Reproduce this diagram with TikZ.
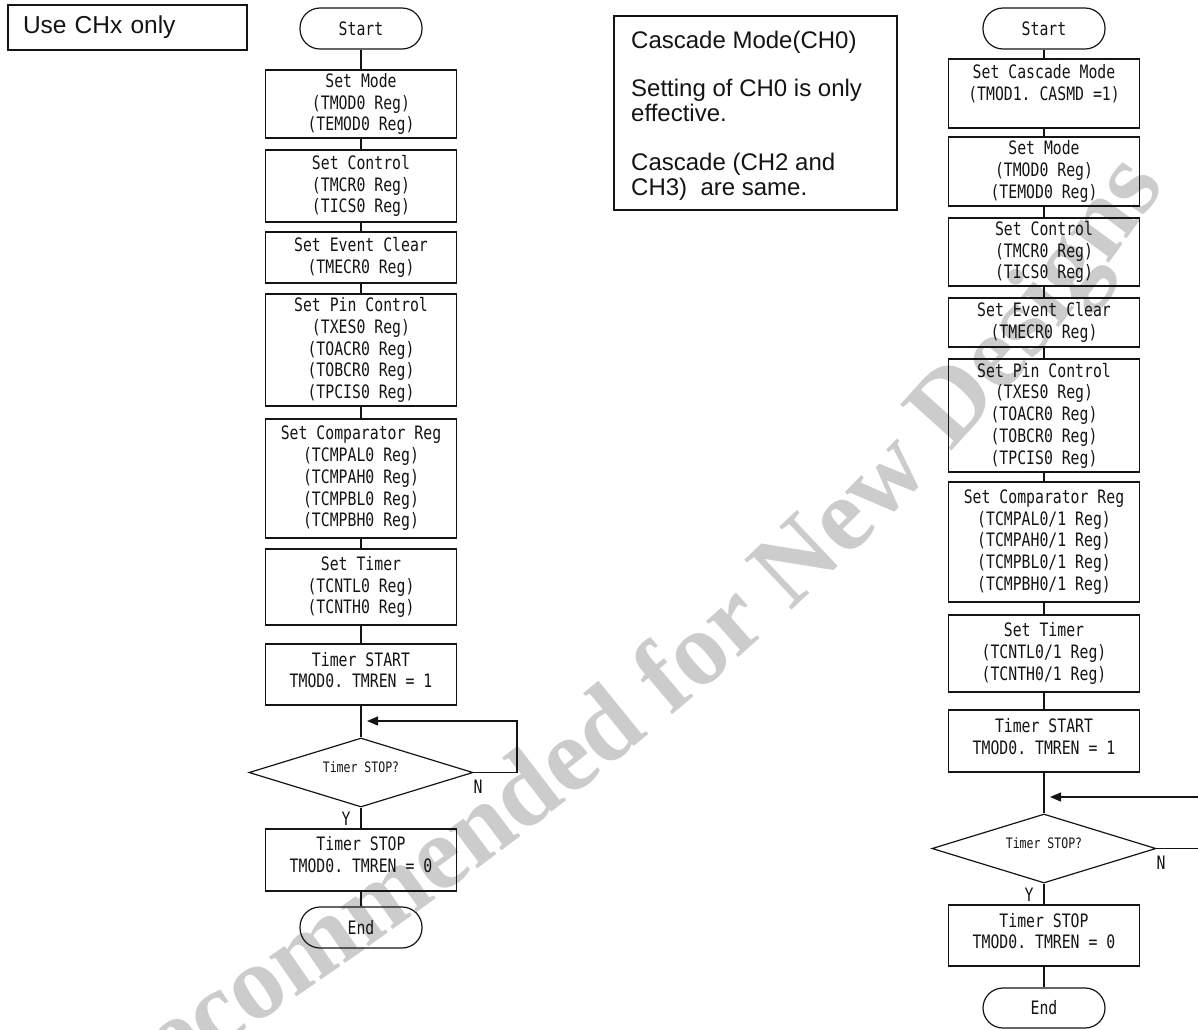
\documentclass[tikz,border=0pt]{standalone}
\usepackage{fontspec}
\usetikzlibrary{shapes.geometric,arrows.meta,decorations.text}
\newfontfamily\gothic[FakeStretch=0.8]{DejaVu Sans Mono}
\newfontfamily\arialf{Liberation Sans}
\newfontfamily\wmserif{Liberation Serif}
\definecolor{wmgray}{RGB}{204,204,204}
\definecolor{ink}{RGB}{20,20,20}
\frenchspacing
\begin{document}
\begin{tikzpicture}[x=1pt,y=-1pt,
  proc/.style={draw=ink, line width=1.2pt, minimum width=191pt, inner sep=0pt, align=center, font=\gothic\fontsize{18.5}{21.7}\selectfont, text=ink},
  term/.style={proc, rounded corners=20pt, minimum width=122pt, minimum height=41pt},
  decide/.style={draw=ink, line width=1.2pt, diamond, shape aspect=3.25, minimum width=224pt, minimum height=69pt, inner sep=0pt, font=\gothic\fontsize{14.4}{16}\selectfont, text=ink},
  conn/.style={draw=ink, line width=1.2pt},
  arr/.style={conn, -{Triangle[length=11pt,width=9pt]}},
  yn/.style={font=\gothic\fontsize{18.5}{21.7}\selectfont, text=ink, inner sep=0pt},
  notetxt/.style={font=\arialf\fontsize{24}{28}\selectfont, text=ink, inner sep=0pt, anchor=base west},
  down/.style={execute at begin node={\rule{0pt}{#1}}},
  up/.style={execute at end node={\rule[-#1]{0pt}{0pt}}},
]
\useasboundingbox (0,0) rectangle (1198,1029);
% watermark
\begin{scope}
\clip (0,0) rectangle (1198,1029);
\path[decorate, decoration={text along path, text align=right,
  text={|\wmserif\bfseries\fontsize{105}{105}\selectfont\color{wmgray}|Not Recommended for New Designs}}]
  (-120,1260) .. controls (400,950) and (870,618) .. (1165,185);
\end{scope}

% left note
\node[draw=ink, line width=1.2pt, minimum width=239pt, minimum height=45pt, inner xsep=15pt, inner ysep=0pt,
  text width=209pt, align=left, font=\arialf\fontsize{24.5}{28}\selectfont, text=ink] (use) at (127.5,27.5) {Use CHx only};

% left flowchart
\node[term] (L0) at (361,28.5) {Start};
\node[proc, minimum height=68pt, down=22pt] (L1) at (361,104) {Set Mode\\(TMOD0 Reg)\\(TEMOD0 Reg)};
\node[proc, minimum height=72pt, down=21pt] (L2) at (361,186) {Set Control\\(TMCR0 Reg)\\(TICS0 Reg)};
\node[proc, minimum height=51pt] (L3) at (361,257.5) {Set Event Clear\\(TMECR0 Reg)};
\node[proc, minimum height=112pt, down=22pt] (L4) at (361,350) {Set Pin Control\\(TXES0 Reg)\\(TOACR0 Reg)\\(TOBCR0 Reg)\\(TPCIS0 Reg)};
\node[proc, minimum height=119pt] (L5) at (361,478.5) {Set Comparator Reg\\(TCMPAL0 Reg)\\(TCMPAH0 Reg)\\(TCMPBL0 Reg)\\(TCMPBH0 Reg)};
\node[proc, minimum height=76pt, down=18pt] (L6) at (361,587) {Set Timer\\(TCNTL0 Reg)\\(TCNTH0 Reg)};
\node[proc, minimum height=61pt, up=9pt] (L7) at (361,674.5) {Timer START\\TMOD0. TMREN = 1};
\node[decide] (L8) at (361,772.5) {\smash{Timer STOP?}};
\node[proc, minimum height=62pt, up=11pt] (L9) at (361,860) {Timer STOP\\TMOD0. TMREN = 0};
\node[term] (L10) at (361,927.5) {End};
\node[yn] (LN) at (478,787) {N};
\node[yn] (LY) at (346,819) {Y};
\coordinate (Lturn) at (517,721);
\coordinate (Lin) at (367,721);

\foreach \a/\b in {L0/L1,L1/L2,L2/L3,L3/L4,L4/L5,L5/L6,L6/L7,L7/L8,L8/L9,L9/L10}
  \draw[conn] (\a.south) -- (\b.north);
\draw[arr] (L8.east) -| (Lturn) -- (Lin);

% note box
\node[draw=ink, line width=1.2pt, minimum width=283pt, minimum height=194pt, inner sep=0pt] (note) at (755.5,113) {};
\node[notetxt] (n1) at (631,48) {Cascade Mode(CH0)};
\node[notetxt] (n2) at (631,96) {Setting of CH0 is only};
\node[notetxt] (n3) at (631,121) {effective.};
\node[notetxt] (n4) at (631,170) {Cascade (CH2 and};
\node[notetxt] (n5) at (631,195) {CH3)\ \ are same.};

% right flowchart
\node[term] (R0) at (1044,28.5) {Start};
\node[proc, minimum height=69pt, down=21pt] (R1) at (1044,93.5) {Set Cascade Mode\\(TMOD1. CASMD =1)\\~};
\node[proc, minimum height=69pt, down=21pt] (R2) at (1044,171.5) {Set Mode\\(TMOD0 Reg)\\(TEMOD0 Reg)};
\node[proc, minimum height=68pt, down=21pt] (R3) at (1044,252) {Set Control\\(TMCR0 Reg)\\(TICS0 Reg)};
\node[proc, minimum height=49pt] (R4) at (1044,322.5) {Set Event Clear\\(TMECR0 Reg)};
\node[proc, minimum height=113pt, down=22pt] (R5) at (1044,415.5) {Set Pin Control\\(TXES0 Reg)\\(TOACR0 Reg)\\(TOBCR0 Reg)\\(TPCIS0 Reg)};
\node[proc, minimum height=120pt] (R6) at (1044,542) {Set Comparator Reg\\(TCMPAL0/1 Reg)\\(TCMPAH0/1 Reg)\\(TCMPBL0/1 Reg)\\(TCMPBH0/1 Reg)};
\node[proc, minimum height=77pt, down=18pt] (R7) at (1044,653.5) {Set Timer\\(TCNTL0/1 Reg)\\(TCNTH0/1 Reg)};
\node[proc, minimum height=62pt, up=9pt] (R8) at (1044,741) {Timer START\\TMOD0. TMREN = 1};
\node[decide] (R9) at (1044,848.5) {\smash{Timer STOP?}};
\node[proc, minimum height=61pt, up=9pt] (R10) at (1044,935.5) {Timer STOP\\TMOD0. TMREN = 0};
\node[term, minimum height=40pt] (R11) at (1044,1008) {End};
\node[yn] (RN) at (1161,863) {N};
\node[yn] (RY) at (1029,895) {Y};
\coordinate (Redge1) at (1198,797);
\coordinate (Rin) at (1050,797);
\coordinate (Redge2) at (1198,848.5);

\foreach \a/\b in {R0/R1,R1/R2,R2/R3,R3/R4,R4/R5,R5/R6,R6/R7,R7/R8,R8/R9,R9/R10,R10/R11}
  \draw[conn] (\a.south) -- (\b.north);
\draw[arr] (Redge1) -- (Rin);
\draw[conn] (R9.east) -- (Redge2);
\end{tikzpicture}
\end{document}
